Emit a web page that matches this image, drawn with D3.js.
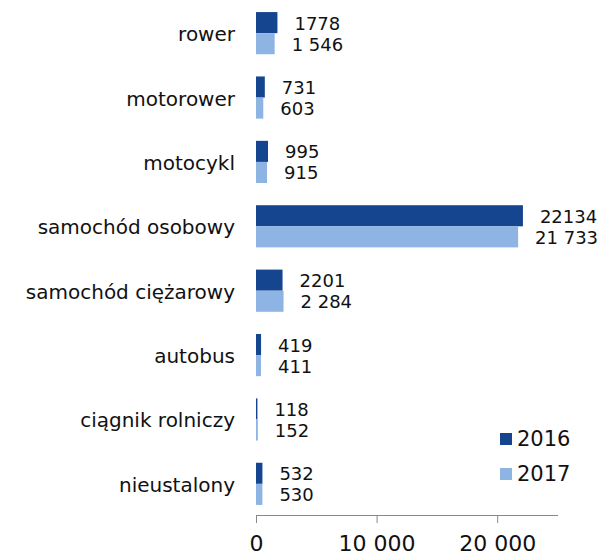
<!DOCTYPE html>
<html><head><meta charset="utf-8">
<script src="https://cdn.jsdelivr.net/npm/d3@7"></script>
<style>body{margin:0;background:#fff}svg{display:block}</style>
</head><body>
<svg id="c" width="603" height="554"></svg>
<script>
const categories = ["rower","motorower","motocykl","samochód osobowy","samochód ciężarowy","autobus","ciągnik rolniczy","nieustalony"];
const values2016 = [1778,731,995,22134,2201,419,118,532];
const values2017 = [1546,603,915,21733,2284,411,152,530];
const labels2016 = ["1778","731","995","22134","2201","419","118","532"];
const labels2017 = ["1 546","603","915","21 733","2 284","411","152","530"];
const series = ["2016","2017"];
const colors = ["#164590","#8eb4e3"];
const tickValues = [0,10000,20000];
const tickLabels = ["0","10 000","20 000"];

const svg = d3.select("#c");
const font = "DejaVu Sans, Verdana, sans-serif";
const x = d3.scaleLinear().domain([0,25000]).range([256,557.5]);
const y = d3.scaleBand().domain(categories).range([1,516]).paddingInner(0.345).paddingOuter(0.172);
const sub = d3.scaleBand().domain(series).range([0,y.bandwidth()]);

const data = [values2016, values2017];
const labs = [labels2016, labels2017];
series.forEach((s,si)=>{
  const g = svg.append("g");
  g.selectAll("rect").data(categories).enter().append("rect")
    .attr("x", x(0)).attr("y", d=>y(d)+sub(s))
    .attr("width", (d,i)=>x(data[si][i])-x(0))
    .attr("height", sub.bandwidth())
    .attr("fill", colors[si]);
  g.selectAll("text").data(categories).enter().append("text")
    .attr("x",(d,i)=>x(data[si][i])+17)
    .attr("y", d=>y(d)+sub(s)+sub.bandwidth()/2+7)
    .attr("font-family",font).attr("font-size",18).attr("fill","#111")
    .text((d,i)=>labs[si][i]);
});

svg.append("g").selectAll("text").data(categories).enter().append("text")
  .attr("x",235).attr("y",d=>y(d)+y.bandwidth()/2+8)
  .attr("text-anchor","end").attr("font-family",font).attr("font-size",20).attr("fill","#111")
  .text(d=>d);

const ax = svg.append("g").attr("transform","translate(0,515)")
  .call(d3.axisBottom(x).tickValues(tickValues).tickFormat((d,i)=>tickLabels[i]).tickSize(8).tickPadding(12).tickSizeOuter(0));
ax.select(".domain").attr("stroke","#888");
ax.selectAll(".tick line").attr("stroke","#888");
ax.selectAll("text").attr("font-family",font).attr("font-size",22).attr("fill","#111");

const leg = svg.append("g");
series.forEach((s,i)=>{
  leg.append("rect").attr("x",500).attr("y",433+i*35).attr("width",12).attr("height",12).attr("fill",colors[i]);
  leg.append("text").attr("x",517).attr("y",446+i*35).attr("font-family",font).attr("font-size",21).attr("fill","#111").text(s);
});
</script>
</body></html>
